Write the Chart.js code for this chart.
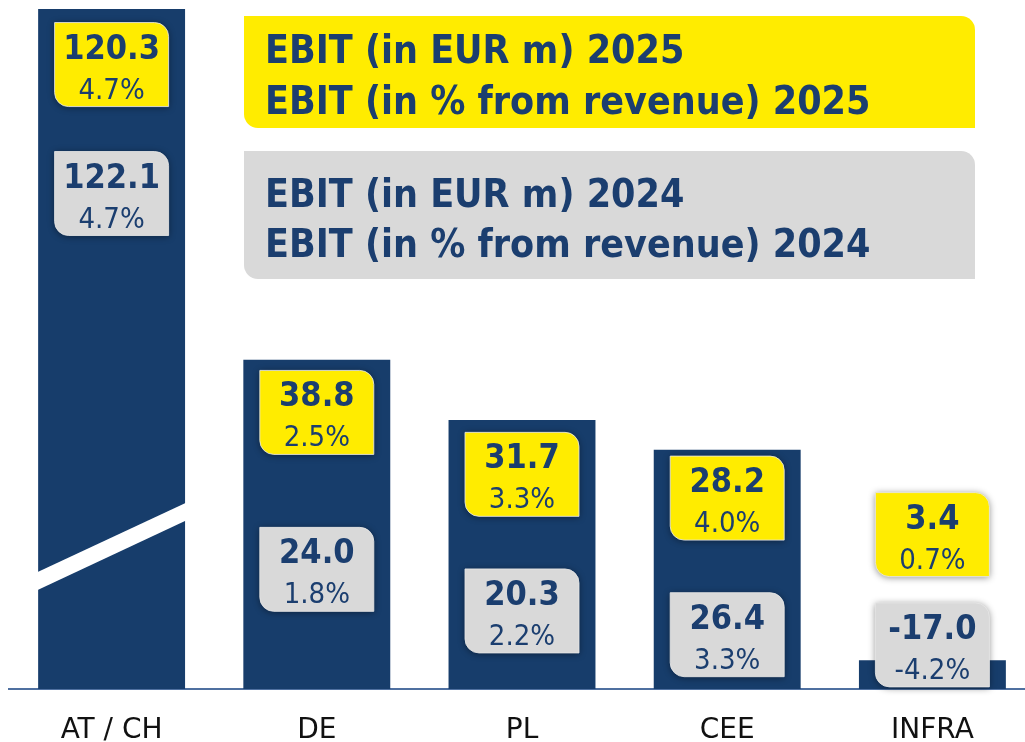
<!DOCTYPE html>
<html><head><meta charset="utf-8">
<script src="https://cdn.jsdelivr.net/npm/chart.js@4.4.1/dist/chart.umd.min.js"></script>
<style>html,body{margin:0;padding:0;background:#fff;overflow:hidden;width:1025px;height:742px}canvas{display:block}</style>
</head><body>
<canvas id="c" width="1036" height="742"></canvas>
<script>
// ---- data ----
const categories = ['AT / CH', 'DE', 'PL', 'CEE', 'INFRA'];
const ebit2025 = [120.3, 38.8, 31.7, 28.2, 3.4];
const margin2025 = [4.7, 2.5, 3.3, 4.0, 0.7];
const ebit2024 = [122.1, 24.0, 20.3, 26.4, -17.0];
const margin2024 = [4.7, 1.8, 2.2, 3.3, -4.2];
const legend2025 = ['EBIT (in EUR m) 2025', 'EBIT (in % from revenue) 2025'];
const legend2024 = ['EBIT (in EUR m) 2024', 'EBIT (in % from revenue) 2024'];

// ---- layout (kept apart from the data) ----
const AXIS_MAX = 80.15;                              // broken axis: taller bars are cut here
const label2025At = [73.6, 32.6, 25.3, 22.5, 18.2]; // box centres, in y-axis units
const label2024At = [58.4, 14.1, 9.2, 6.4, 5.2];
const BREAK_LEFT = 12.7, BREAK_RIGHT = 20.9, BREAK_THICK = 2.1;

const FONT = "'DejaVu Sans Condensed', 'DejaVu Sans', sans-serif";
const FONT_AXIS = "'DejaVu Sans', sans-serif";
const NAVY_BAR = '#173d6b';
const NAVY_TXT = '#1b3e6f';
const YELLOW = '#ffec00';
const GREY = '#d9d9d9';
const AXIS = '#4f70a0';

function drawBox(ctx, cx, cy, fill, big, small) {
  const w = 114, h = 84, r = 14;
  ctx.save();
  ctx.shadowColor = 'rgba(0,0,0,0.45)';
  ctx.shadowBlur = 7;
  ctx.shadowOffsetY = 1;
  ctx.fillStyle = fill;
  ctx.beginPath();
  ctx.roundRect(cx - w / 2, cy - h / 2, w, h, [0, r, 0, r]);
  ctx.fill();
  ctx.shadowColor = 'transparent';
  ctx.strokeStyle = 'rgba(230,230,230,0.85)';
  ctx.lineWidth = 1;
  ctx.stroke();
  ctx.restore();
  ctx.save();
  ctx.fillStyle = NAVY_TXT;
  ctx.textAlign = 'center';
  ctx.textBaseline = 'alphabetic';
  ctx.font = 'bold 34px ' + FONT;
  ctx.fillText(big, cx, cy - 6);
  ctx.font = '29px ' + FONT;
  ctx.fillText(small, cx, cy + 34);
  ctx.restore();
}

function drawLegendBox(ctx, x, y, w, h, fill, lines, baselines) {
  ctx.save();
  ctx.fillStyle = fill;
  ctx.beginPath();
  ctx.roundRect(x, y, w, h, [0, 14, 0, 14]);
  ctx.fill();
  ctx.fillStyle = NAVY_TXT;
  ctx.font = 'bold 39px ' + FONT;
  ctx.textAlign = 'left';
  ctx.textBaseline = 'alphabetic';
  lines.forEach((t, i) => ctx.fillText(t, x + 21, baselines[i]));
  ctx.restore();
}

const overlay = {
  id: 'overlay',
  afterDatasetsDraw(chart) {
    const ctx = chart.ctx, xs = chart.scales.x, ys = chart.scales.y;
    const meta = chart.getDatasetMeta(0);
    // axis break on bars beyond the axis maximum
    meta.data.forEach((bar, i) => {
      if (ebit2025[i] <= AXIS_MAX) return;
      const l = bar.x - bar.width / 2, r = bar.x + bar.width / 2;
      const yl = ys.getPixelForValue(BREAK_LEFT), yr = ys.getPixelForValue(BREAK_RIGHT);
      const t = ys.getPixelForValue(0) - ys.getPixelForValue(BREAK_THICK);
      ctx.save();
      ctx.fillStyle = '#ffffff';
      ctx.beginPath();
      ctx.moveTo(l - 1, yl - t / 2);
      ctx.lineTo(r + 1, yr - t / 2);
      ctx.lineTo(r + 1, yr + t / 2);
      ctx.lineTo(l - 1, yl + t / 2);
      ctx.closePath();
      ctx.fill();
      ctx.restore();
    });
    // value boxes
    categories.forEach((c, i) => {
      const cx = xs.getPixelForValue(i);
      drawBox(ctx, cx, ys.getPixelForValue(label2025At[i]), YELLOW,
        ebit2025[i].toFixed(1), margin2025[i].toFixed(1) + '%');
      drawBox(ctx, cx, ys.getPixelForValue(label2024At[i]), GREY,
        ebit2024[i].toFixed(1), margin2024[i].toFixed(1) + '%');
    });
  },
  afterDraw(chart) {
    const ctx = chart.ctx;
    drawLegendBox(ctx, 244, 16, 731, 112, YELLOW, legend2025, [63, 114]);
    drawLegendBox(ctx, 244, 151, 731, 128, GREY, legend2024, [207, 257]);
  }
};

new Chart(document.getElementById('c'), {
  type: 'bar',
  data: {
    labels: categories,
    datasets: [{
      label: 'EBIT 2025',
      data: ebit2025,
      backgroundColor: NAVY_BAR,
      borderWidth: 0,
      barPercentage: 0.716,
      categoryPercentage: 1
    }]
  },
  options: {
    responsive: false,
    animation: false,
    layout: { padding: { top: 9, left: 9, right: 1, bottom: 0 } },
    plugins: { legend: { display: false }, tooltip: { enabled: false } },
    scales: {
      x: {
        grid: { display: false, drawTicks: false },
        border: { display: true, color: AXIS, width: 2 },
        ticks: { color: '#111111', font: { family: FONT_AXIS, size: 28 }, padding: 25 },
        afterFit(s) { s.height = 53; }
      },
      y: { display: false, min: 0, max: AXIS_MAX }
    }
  },
  plugins: [overlay]
});
</script>
</body></html>
